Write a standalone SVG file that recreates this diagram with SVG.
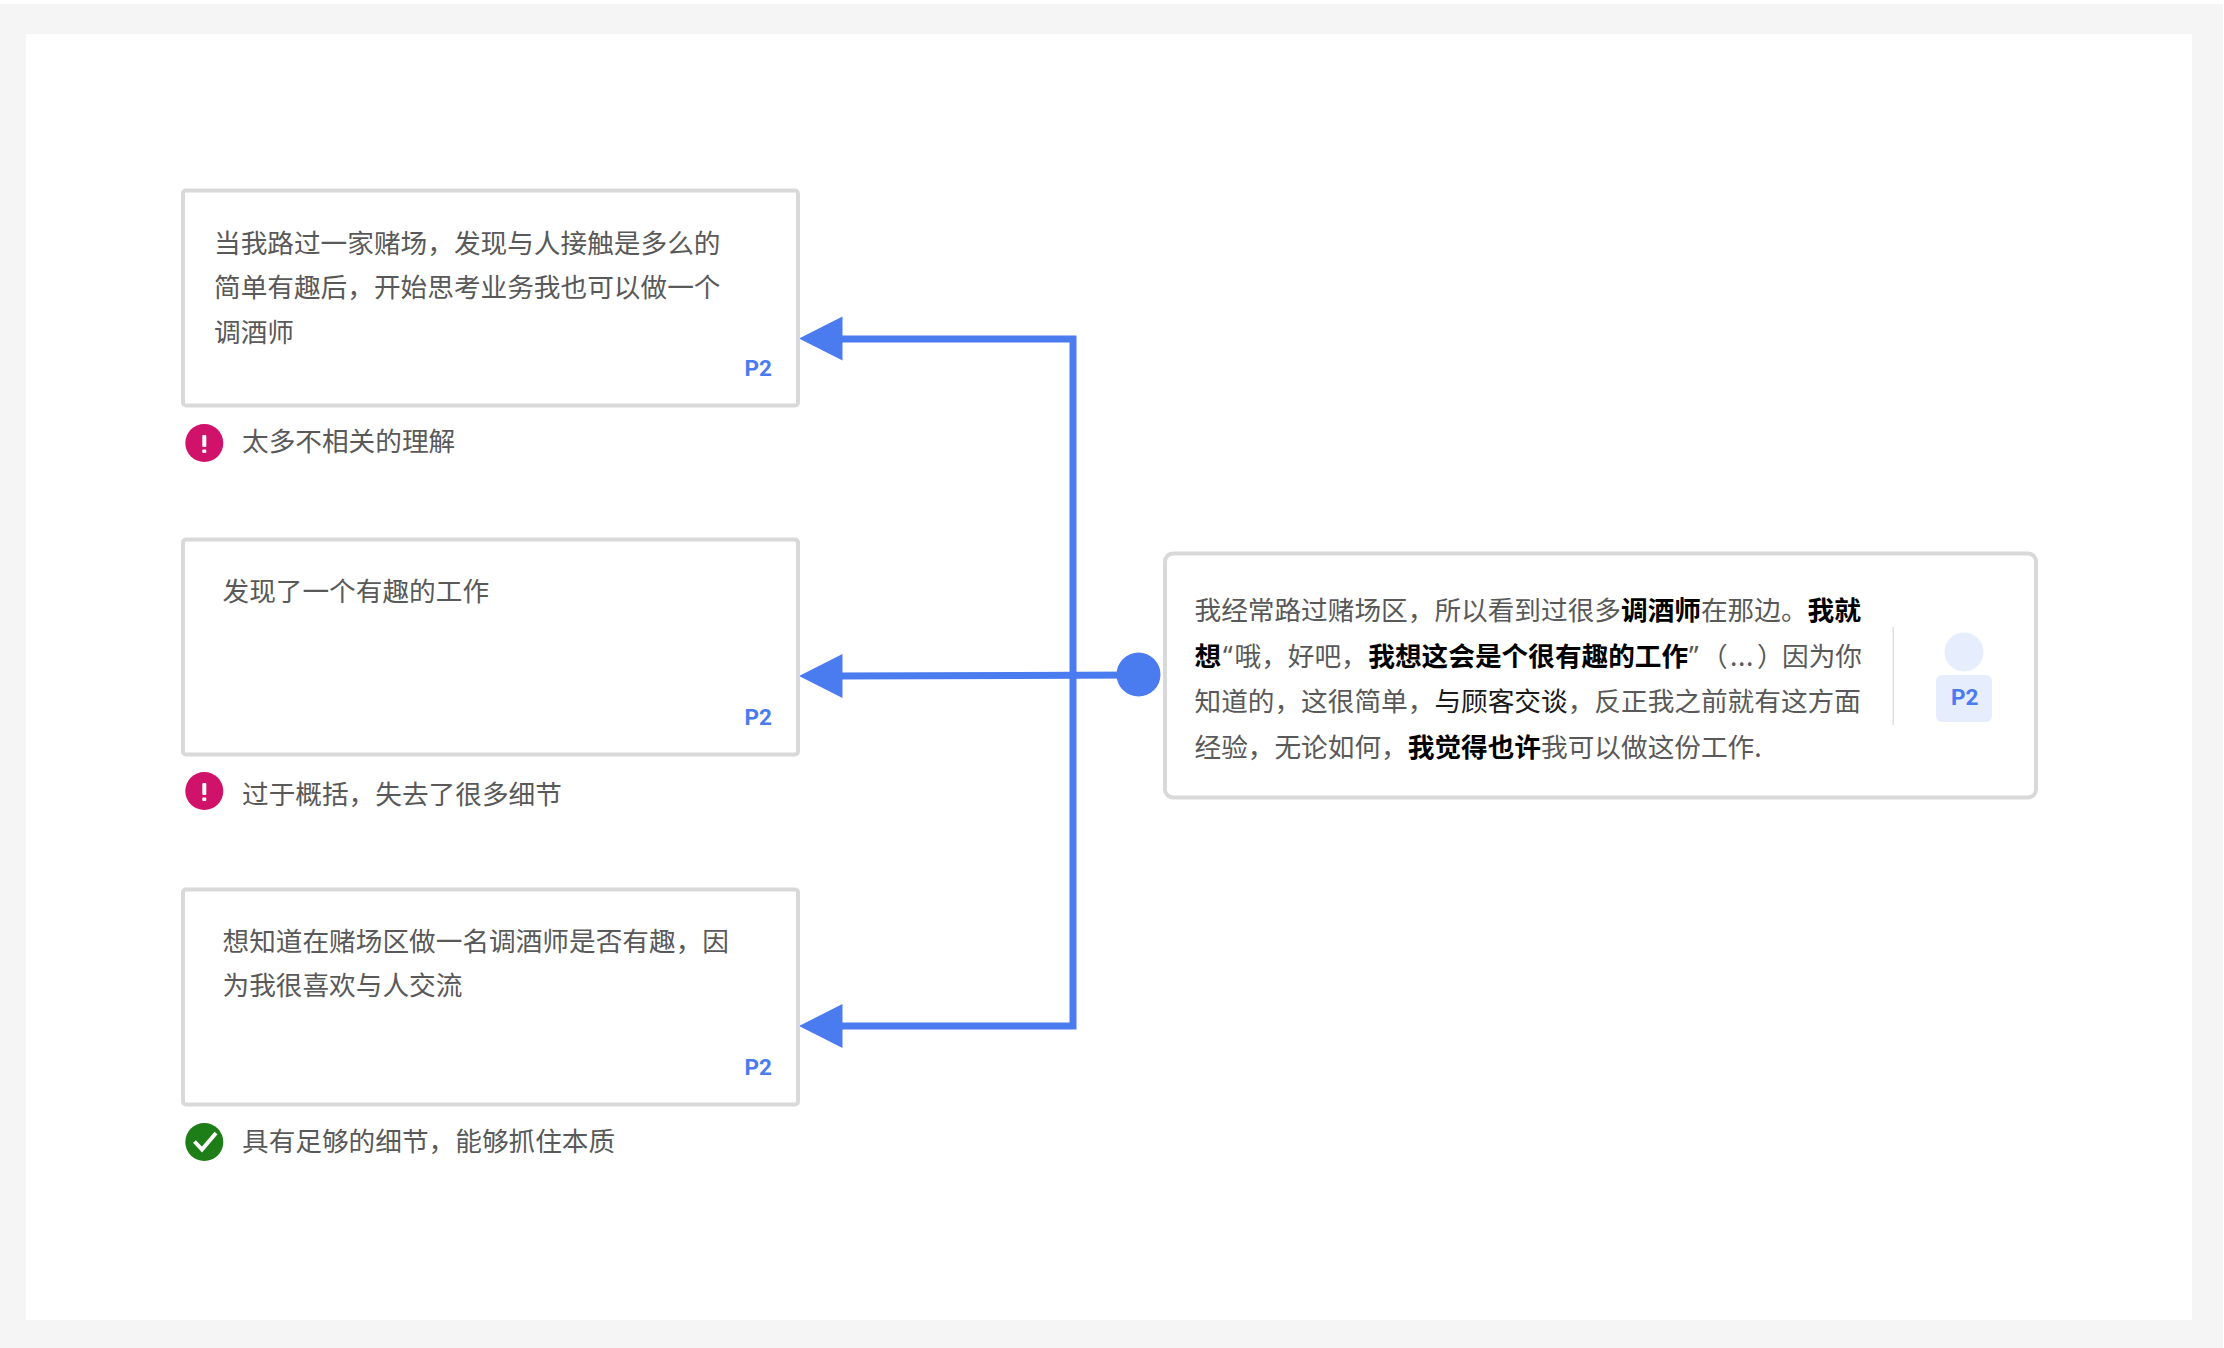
<svg xmlns="http://www.w3.org/2000/svg" width="2224" height="1348" viewBox="0 0 2224 1348">
<style>
.card{fill:#fff;stroke:#d9d9d9;stroke-width:4}
.t{font-family:"Noto Sans CJK SC","Noto Sans",sans-serif;font-size:26.67px;fill:#595959}
.b{font-weight:700;fill:#000}
.d{fill:#1a1a1a}
.q{font-family:"Noto Sans",sans-serif}
.p{font-family:Roboto,"Liberation Sans",sans-serif;font-size:22.5px;font-weight:700;fill:#4a7bf0}
.c{fill:none;stroke:#4a7bef;stroke-width:7}
.h{fill:#4a7bef}
</style>
<rect width="2224" height="1348" fill="#fff"/>
<rect y="4" width="2223" height="1344" fill="#f5f5f5"/>
<rect x="26" y="34" width="2166" height="1286" fill="#fff"/>
<g id="connectors">
<path class="c" d="M1138 675L835 676"/>
<path class="c" d="M835 339H1073V1026H835"/>
<path class="h" d="M799 338.500L842.500 316.500V360.500Z"/>
<path class="h" d="M799 676L842.500 654V698Z"/>
<path class="h" d="M799 1026L842.500 1004V1048Z"/>
<circle class="h" cx="1138.500" cy="674.500" r="22"/>
</g>
<g id="node-1">
<rect class="card" x="183" y="190.500" width="615" height="215" rx="3"/>
<text class="t" x="214" y="253">当我路过一家赌场，发现与人接触是多么的</text>
<text class="t" x="214" y="297">简单有趣后，开始思考业务我也可以做一个</text>
<text class="t" x="214" y="342">调酒师</text>
<text class="p" x="744.500" y="375.500">P2</text>
</g>
<g id="note-1">
<circle cx="204.300" cy="443" r="19" fill="#d0126b"/>
<rect x="202.300" y="435" width="4" height="12" rx="1" fill="#fff"/>
<rect x="202.300" y="449.500" width="4" height="3.500" rx="1" fill="#fff"/>
<text class="t" x="242" y="451">太多不相关的理解</text>
</g>
<g id="node-2">
<rect class="card" x="183" y="539.500" width="615" height="215" rx="3"/>
<text class="t" x="222.500" y="601">发现了一个有趣的工作</text>
<text class="p" x="744.500" y="725">P2</text>
</g>
<g id="note-2">
<circle cx="204.300" cy="791" r="19" fill="#d0126b"/>
<rect x="202.300" y="783" width="4" height="12" rx="1" fill="#fff"/>
<rect x="202.300" y="797.500" width="4" height="3.500" rx="1" fill="#fff"/>
<text class="t" x="242" y="804">过于概括，失去了很多细节</text>
</g>
<g id="node-3">
<rect class="card" x="183" y="889.500" width="615" height="215" rx="3"/>
<text class="t" x="222.500" y="951">想知道在赌场区做一名调酒师是否有趣，因</text>
<text class="t" x="222.500" y="995">为我很喜欢与人交流</text>
<text class="p" x="744.500" y="1074.500">P2</text>
</g>
<g id="note-3">
<circle cx="204.300" cy="1142" r="19" fill="#1d7d17"/>
<path d="M194.500 1141.500L202 1149.500L216 1133" fill="none" stroke="#fff" stroke-width="4"/>
<text class="t" x="242" y="1151">具有足够的细节，能够抓住本质</text>
</g>
<g id="node-4">
<rect class="card" x="1165" y="553.500" width="871" height="244" rx="8"/>
<text class="t" x="1194.500" y="620">我经常路过赌场区，所以看到过很多<tspan class="b">调酒师</tspan>在那边。<tspan class="b">我就</tspan></text>
<text class="t" y="666"><tspan class="b" x="1194.500">想</tspan><tspan class="q" x="1223">“</tspan><tspan x="1234.500">哦，好吧，</tspan><tspan class="b" x="1368.300">我想这会是个很有趣的工作</tspan><tspan class="q" x="1689">”</tspan><tspan x="1701">（</tspan><tspan x="1730" letter-spacing="0.6">...</tspan><tspan x="1757">）</tspan><tspan x="1782">因为你</tspan></text>
<text class="t" x="1194.500" y="711">知道的，这很简单，<tspan class="d">与顾客交谈</tspan>，反正我之前就有这方面</text>
<text class="t" x="1194.500" y="757">经验，无论如何，<tspan class="b">我觉得也许</tspan>我可以做这份工作.</text>
<rect x="1892.500" y="627" width="1.500" height="98" fill="#e0e0e0"/>
<circle cx="1964" cy="652" r="19.500" fill="#e6edfd"/>
<rect x="1936" y="675" width="56" height="47" rx="6" fill="#e6edfd"/>
<text class="p" x="1951" y="705">P2</text>
</g>
</svg>
